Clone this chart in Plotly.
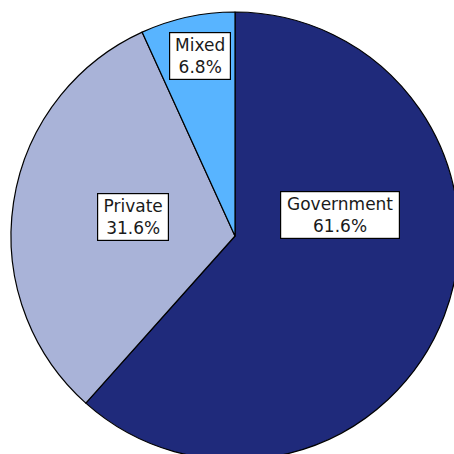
import plotly.graph_objects as go

# Share of funding by source
categories = ["Government", "Private", "Mixed"]
shares = [61.6, 31.6, 6.8]

slice_colors = ["#1F2A7B", "#A9B3D8", "#58B4FF"]

# Canvas slightly larger than the viewport so the pie runs past the right/bottom edges
W, H = 470, 470
CX, CY, R = 235, 236, 224

# Label box centres (pixels from the top-left corner) and inner text widths
label_pos = {"Government": (340, 214.5), "Private": (133, 216.5), "Mixed": (199.5, 56)}
label_width = {"Government": 114, "Private": 66, "Mixed": 56}

fig = go.Figure(
    go.Pie(
        labels=categories,
        values=shares,
        sort=False,
        direction="clockwise",
        rotation=0,
        marker=dict(colors=slice_colors, line=dict(color="#000000", width=1.2)),
        textinfo="none",
        hoverinfo="label+percent",
        domain=dict(
            x=[(CX - R) / W, (CX + R) / W],
            y=[1 - (CY + R) / H, 1 - (CY - R) / H],
        ),
        showlegend=False,
    )
)

for name, val in zip(categories, shares):
    px, py = label_pos[name]
    fig.add_annotation(
        x=px / W,
        y=1 - py / H,
        xref="paper",
        yref="paper",
        xanchor="center",
        yanchor="middle",
        text=f"{name}<br>{val:.1f}%",
        showarrow=False,
        width=label_width[name],
        align="center",
        font=dict(family="DejaVu Sans", size=17, color="#1A1A1A"),
        bgcolor="#FFFFFF",
        bordercolor="#000000",
        borderwidth=1.2,
        borderpad=2,
    )

fig.update_layout(
    width=W,
    height=H,
    margin=dict(l=0, r=0, t=0, b=0),
    paper_bgcolor="#FFFFFF",
    plot_bgcolor="#FFFFFF",
)

fig.write_html(
    "out.html",
    post_script="document.body.style.margin='0';document.body.style.overflow='hidden';document.documentElement.style.overflow='hidden';",
)
